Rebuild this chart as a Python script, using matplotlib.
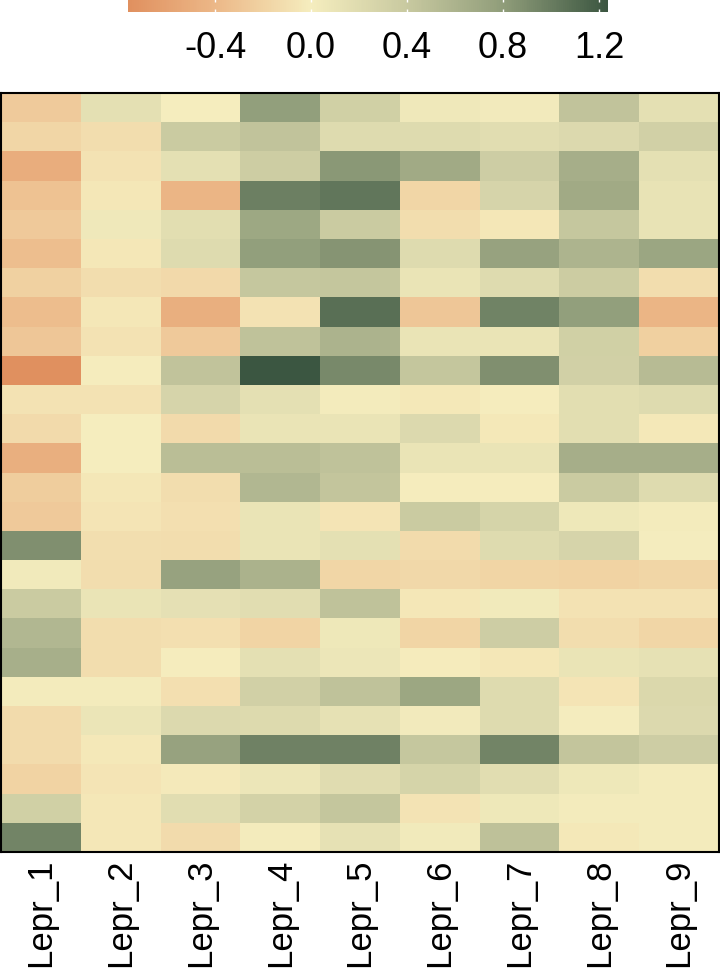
import numpy as np
import matplotlib
matplotlib.use("Agg")
import matplotlib.pyplot as plt
from matplotlib.colors import LinearSegmentedColormap, Normalize

plt.rcParams['font.family'] = ['Liberation Sans', 'DejaVu Sans']

columns = ["Lepr_1", "Lepr_2", "Lepr_3", "Lepr_4", "Lepr_5", "Lepr_6", "Lepr_7", "Lepr_8", "Lepr_9"]

values = [
    [-0.26, 0.15, 0.00, 0.78, 0.33, 0.05, 0.03, 0.45, 0.15],
    [-0.17, -0.12, 0.38, 0.45, 0.20, 0.20, 0.18, 0.22, 0.32],
    [-0.49, -0.08, 0.15, 0.36, 0.83, 0.68, 0.35, 0.64, 0.15],
    [-0.32, -0.05, -0.42, 0.98, 1.04, -0.17, 0.27, 0.68, 0.12],
    [-0.27, 0.05, 0.17, 0.70, 0.38, -0.12, -0.05, 0.42, 0.12],
    [-0.35, -0.05, 0.20, 0.78, 0.85, 0.20, 0.75, 0.59, 0.72],
    [-0.21, -0.12, -0.15, 0.42, 0.43, 0.10, 0.20, 0.37, -0.12],
    [-0.36, -0.05, -0.48, -0.08, 1.08, -0.29, 0.96, 0.78, -0.42],
    [-0.29, -0.08, -0.27, 0.46, 0.60, 0.10, 0.10, 0.33, -0.22],
    [-0.76, -0.01, 0.45, 1.24, 0.92, 0.43, 0.88, 0.32, 0.52],
    [-0.08, -0.08, 0.27, 0.15, 0.02, -0.04, -0.01, 0.17, 0.20],
    [-0.14, 0.00, -0.14, 0.10, 0.10, 0.22, -0.04, 0.17, -0.04],
    [-0.48, 0.00, 0.50, 0.50, 0.46, 0.10, 0.10, 0.64, 0.64],
    [-0.24, -0.05, -0.12, 0.56, 0.44, -0.01, -0.01, 0.38, 0.20],
    [-0.27, -0.06, -0.10, 0.10, -0.06, 0.38, 0.28, 0.06, 0.02],
    [0.88, -0.11, -0.12, 0.10, 0.15, -0.13, 0.20, 0.27, 0.01],
    [0.04, -0.12, 0.75, 0.61, -0.17, -0.16, -0.18, -0.20, -0.17],
    [0.38, 0.10, 0.14, 0.18, 0.46, -0.05, 0.04, -0.08, -0.08],
    [0.56, -0.12, -0.10, -0.19, 0.06, -0.18, 0.35, -0.12, -0.17],
    [0.63, -0.12, -0.01, 0.15, 0.08, -0.02, -0.05, 0.10, 0.13],
    [0.02, 0.02, -0.10, 0.32, 0.46, 0.71, 0.20, -0.06, 0.23],
    [-0.13, 0.09, 0.22, 0.21, 0.13, 0.03, 0.20, 0.01, 0.22],
    [-0.13, -0.04, 0.75, 0.97, 0.97, 0.42, 0.95, 0.44, 0.35],
    [-0.20, -0.06, -0.03, 0.08, 0.19, 0.28, 0.18, 0.06, 0.02],
    [0.33, -0.05, 0.18, 0.30, 0.43, -0.07, 0.06, 0.02, 0.02],
    [0.95, -0.05, -0.13, 0.02, 0.13, 0.04, 0.47, -0.04, 0.02],
]

cbar_ticks = [-0.4, 0.0, 0.4, 0.8, 1.2]
cbar_ticklabels = ["-0.4", "0.0", "0.4", "0.8", "1.2"]

vmin, vmax = -0.7625, 1.2375
stop_vals = [vmin, -0.4, 0.0, 0.4, 0.8, vmax]
stop_cols = ["#E0905F", "#ECB888", "#F5EDBE", "#C8C9A0", "#909D7A", "#3B5641"]
cmap = LinearSegmentedColormap.from_list(
    "custom", [((v - vmin) / (vmax - vmin), c) for v, c in zip(stop_vals, stop_cols)])
norm = Normalize(vmin=vmin, vmax=vmax)

W, H = 720, 976
fig = plt.figure(figsize=(W / 100, H / 100), dpi=100)

data = np.array(values)
nrow, ncol = data.shape

ax = fig.add_axes([1 / W, (H - 852) / H, 718 / W, (852 - 93) / H])
mesh = ax.pcolormesh(np.arange(ncol + 1), np.arange(nrow + 1), data, cmap=cmap, norm=norm)
ax.set_xlim(0, ncol)
ax.set_ylim(nrow, 0)
ax.set_yticks([])
ax.set_xticks(np.arange(ncol) + 0.5)
ax.set_xticklabels(columns, rotation=90, fontsize=25, va='top')
ax.tick_params(axis='x', length=0, pad=5)
for s in ax.spines.values():
    s.set_linewidth(1.5)
    s.set_color('black')

cax = fig.add_axes([128 / W, (H - 12) / H, 480 / W, 13 / H])
cb = fig.colorbar(mesh, cax=cax, orientation='horizontal')
cb.outline.set_visible(False)
cb.set_ticks(cbar_ticks)
cb.set_ticklabels(cbar_ticklabels)
cax.tick_params(axis='x', which='both', direction='in', top=True, bottom=True,
                color='white', length=2.5, width=1, labelsize=26, pad=14)

fig.savefig("out.png", dpi=100)
